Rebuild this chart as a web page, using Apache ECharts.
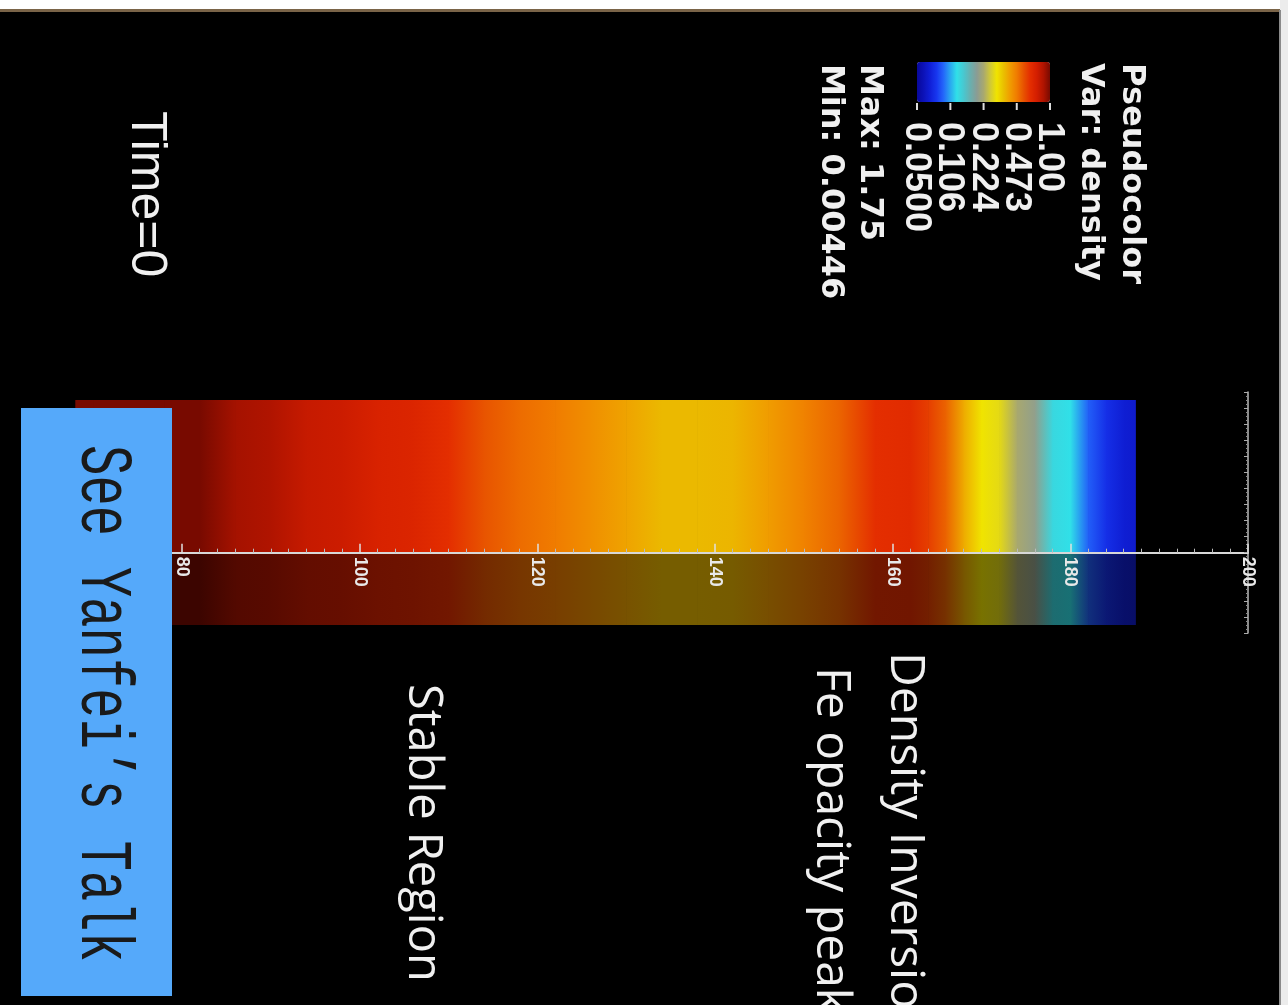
<!DOCTYPE html>
<html>
<head>
<meta charset="utf-8">
<script src="https://cdn.jsdelivr.net/npm/echarts@6/dist/echarts.min.js"></script>
<style>
html,body{margin:0;padding:0;background:#fff;}
#chart{width:1288px;height:1005px;}
</style>
</head>
<body>
<div id="chart"></div>
<script>
// ---- data ----
const radius  = [68, 70, 74, 78, 82, 86, 90, 94, 98, 102, 106, 110, 114, 118, 122, 126, 130, 134, 138, 142,
                 146, 150, 154, 158, 162, 164, 166, 168, 170, 172, 174, 176, 178, 180, 182, 184, 186, 187.3];
const density = [1.40, 1.38, 1.32, 1.22, 1.08, 0.886, 0.86, 0.787, 0.765, 0.717, 0.697, 0.638, 0.549, 0.502, 0.473, 0.433, 0.395, 0.361, 0.361, 0.367,
                 0.408, 0.459, 0.517, 0.638, 0.655, 0.60, 0.517, 0.383, 0.302, 0.285, 0.224, 0.199, 0.130, 0.123, 0.0885, 0.074, 0.066, 0.064];

const legendTickValues = [1.00, 0.473, 0.224, 0.106, 0.0500];
const legendTickLabels = ['1.00', '0.473', '0.224', '0.106', '0.0500'];
const legendTitle = ['Pseudocolor', 'Var: density'];
const legendRange = ['Max: 1.75', 'Min: 0.00446'];
const colorMin = 0.05, colorMax = 1.0;
const timeLabel = 'Time=0';
const annotations = ['Density Inversion', 'Fe opacity peak', 'Stable Region'];
const overlayText = 'See Yanfei\u2019s Talk';

// ---- styling ----
const CMAP = ['#08089a','#0c12b8','#1020d8','#1838f0','#2468fa','#2aa8f0','#30e0e8','#48c8d0','#68b0b0','#8a9c94',
              '#a8a870','#d0c838','#f0e400','#eac000','#f09c00','#f07c00','#e85400','#e42e00','#d41e00','#b01400','#780a00'];
const BAND_TOP = 0.95, BAND_BOTTOM = -0.45;
const lmin = Math.log10(colorMin), lmax = Math.log10(colorMax);
const bandData = radius.map((r, i) => [r, density[i], Math.min(lmax, Math.max(lmin, Math.log10(density[i])))]);

const CB = {left: 917, top: 62, len: 133, thick: 40};
const TXT = '#f0f0f0';
function rtext(text, x, y, font, extra, fill) {
  const el = {type: 'text', x: x, y: y, rotation: -Math.PI / 2, z: 50, silent: true,
    style: {text: text, font: font, fill: fill || TXT, textAlign: 'left', textVerticalAlign: 'middle', align: 'left', verticalAlign: 'middle'}};
  return Object.assign(el, extra || {});
}

const graphics = [
  {type: 'rect', shape: {x: 0, y: 0, width: 1288, height: 10}, style: {fill: '#ffffff'}, z: 60, silent: true},
  {type: 'rect', shape: {x: 0, y: 9, width: 1288, height: 3}, style: {fill: '#7a6448'}, z: 60, silent: true},
  {type: 'rect', shape: {x: 1280, y: 0, width: 8, height: 1005}, style: {fill: '#ececec'}, z: 60, silent: true},
  {type: 'rect', shape: {x: 1279, y: 10, width: 2, height: 995}, style: {fill: '#8a8a8a'}, z: 60, silent: true},
  rtext(legendTitle[0], 1131, 63, 'bold 32px "DejaVu Sans"'),
  rtext(legendTitle[1], 1090, 63, 'bold 32px "DejaVu Sans"'),
  rtext(legendRange[0], 869, 64, 'bold 32px "DejaVu Sans"'),
  rtext(legendRange[1], 830, 64, 'bold 32px "DejaVu Sans"'),
  rtext(timeLabel, 146, 111, '50px "Liberation Sans"'),
  rtext(annotations[0], 905, 652, '48px "Open Sans"'),
  rtext(annotations[1], 831, 667, '48px "Open Sans"'),
  rtext(annotations[2], 422, 684, '47px "Open Sans"'),
  {type: 'rect', shape: {x: 21, y: 408, width: 151, height: 588}, style: {fill: '#55a9fa'}, z: 90, silent: true},
  rtext(overlayText, 102, 445, '74px "Liberation Mono"', {z: 95, scaleX: 0.685}, '#1a1a1a')
];
legendTickValues.forEach((v, i) => {
  const x = CB.left + CB.len * (Math.log10(v) - lmin) / (lmax - lmin);
  graphics.push({type: 'line', shape: {x1: x, y1: 103, x2: x, y2: 110}, style: {stroke: '#dddddd', lineWidth: 2}, z: 50, silent: true});
  graphics.push(rtext(legendTickLabels[i], x - 1, 122, 'bold 36px "Liberation Sans"'));
});

const chart = echarts.init(document.getElementById('chart'), null, {renderer: 'canvas'});
chart.setOption({
  backgroundColor: '#000000',
  animation: false,
  grid: {left: 22, right: 40, top: 392, bottom: 372, containLabel: false},
  xAxis: {
    type: 'value', min: 62, max: 200, splitNumber: 7, z: 10,
    position: 'bottom', offset: -80.3,
    axisLine: {show: true, onZero: false, lineStyle: {color: '#d8d8d8', width: 2}},
    axisTick: {show: true, inside: true, length: 9, lineStyle: {color: '#e0e0e0', width: 1.5}},
    minorTick: {show: true, splitNumber: 10, length: 4, lineStyle: {color: '#bbbbbb', width: 1}},
    axisLabel: {show: true, rotate: -90, margin: 4, color: '#e8e8e8', fontSize: 18, fontWeight: 'bold', fontFamily: 'Liberation Sans', showMinLabel: false},
    splitLine: {show: false}
  },
  yAxis: {
    type: 'value', min: -0.5, max: 1, interval: 0.1, position: 'right', z: 10,
    axisLine: {show: true, lineStyle: {color: '#bbbbbb', width: 1.5}},
    axisTick: {show: true, inside: true, length: 4, lineStyle: {color: '#aaaaaa'}},
    minorTick: {show: true, splitNumber: 4, length: 2, lineStyle: {color: '#888888'}},
    axisLabel: {show: false},
    splitLine: {show: false}
  },
  visualMap: {
    type: 'continuous', seriesIndex: 0, dimension: 2, min: lmin, max: lmax,
    orient: 'horizontal', left: CB.left, top: CB.top, itemWidth: CB.thick, itemHeight: CB.len,
    padding: 0, calculable: false, hoverLink: false, text: null, showLabel: false,
    inRange: {color: CMAP}
  },
  graphic: graphics,
  series: [{
    type: 'custom', silent: true, clip: false,
    encode: {x: 0, y: 1},
    data: bandData,
    renderItem: function (params, api) {
      const i = params.dataIndexInside;
      if (i >= params.dataInsideLength - 1) return null;
      const r0 = api.value(0), r1 = api.value(0, i + 1);
      const c0 = api.visual('color'), c1 = api.visual('color', i + 1);
      const pTop = api.coord([r0, BAND_TOP]);
      const pEnd = api.coord([r1, BAND_TOP]);
      const pMid = api.coord([r0, 0]);
      const pBot = api.coord([r0, BAND_BOTTOM]);
      const w = pEnd[0] - pTop[0] + 0.7;
      const g1 = new echarts.graphic.LinearGradient(0, 0, 1, 0, [{offset: 0, color: c0}, {offset: 1, color: c1}]);
      const d0 = echarts.color.lerp(0.5, [c0, '#000000']);
      const d1 = echarts.color.lerp(0.5, [c1, '#000000']);
      const g2 = new echarts.graphic.LinearGradient(0, 0, 1, 0, [{offset: 0, color: d0}, {offset: 1, color: d1}]);
      return {type: 'group', children: [
        {type: 'rect', shape: {x: pTop[0], y: pTop[1], width: w, height: pMid[1] - pTop[1]}, style: {fill: g1}},
        {type: 'rect', shape: {x: pTop[0], y: pMid[1], width: w, height: pBot[1] - pMid[1]}, style: {fill: g2}}
      ]};
    }
  }]
});
</script>
</body>
</html>
